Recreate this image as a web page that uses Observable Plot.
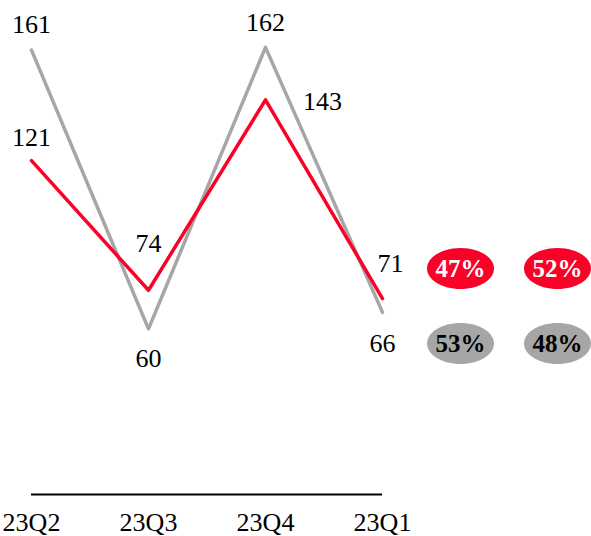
<!DOCTYPE html>
<html>
<head>
<meta charset="utf-8">
<script src="https://cdn.jsdelivr.net/npm/d3@7"></script>
<script src="https://cdn.jsdelivr.net/npm/@observablehq/plot@0.6"></script>
<style>
  html, body { margin: 0; padding: 0; background: #fff; }
  #wrap { position: relative; width: 591px; height: 536px; overflow: hidden; }
  #wrap svg { overflow: visible; }
  #shares { position: absolute; left: 420px; top: 230px; }
  #main { position: absolute; left: 0; top: 0; }
</style>
</head>
<body>
<div id="wrap"><div id="main"></div><div id="shares"></div></div>
<script>
const quarters = ["23Q2", "23Q3", "23Q4", "23Q1"];
const redValues = [121, 74, 143, 71];
const grayValues = [161, 60, 162, 66];
const shareCols = ["P1", "P2"];
const shareRows = ["seriesA", "seriesB"];
const redShares = [47, 52];
const grayShares = [53, 48];

const RED = "#fb0128";
const GRAY = "#a6a6a6";
const FONT = "'Liberation Serif', 'Times New Roman', serif";
const FS = 26;
const FSB = 25;

const redData = quarters.map((q, i) => ({q, v: redValues[i]}));
const grayData = quarters.map((q, i) => ({q, v: grayValues[i]}));

function label(values, i, dx, dy) {
  return Plot.text([i], {
    x: j => quarters[j], y: j => values[j], text: j => String(values[j]),
    dx, dy, fontSize: FS, fill: "black", lineAnchor: "middle"
  });
}

const main = Plot.plot({
  width: 591, height: 536,
  marginLeft: 31, marginRight: 209, marginTop: 0, marginBottom: 42,
  style: {fontFamily: FONT, background: "transparent"},
  x: {type: "point", domain: quarters, padding: 0, axis: null},
  y: {domain: [0, 179], axis: null},
  marks: [
    Plot.ruleY([0], {stroke: "black", strokeWidth: 2}),
    Plot.text(quarters, {x: d => d, y: () => 0, text: d => d, dy: 28, fontSize: FS, fill: "black", lineAnchor: "middle"}),
    Plot.line(grayData, {x: "q", y: "v", stroke: GRAY, strokeWidth: 3.5}),
    Plot.line(redData, {x: "q", y: "v", stroke: RED, strokeWidth: 3.5}),
    label(grayValues, 0, 0, -26),
    label(grayValues, 1, 0, 30),
    label(grayValues, 2, 0, -25),
    label(grayValues, 3, 0, 31),
    label(redValues, 0, 0, -23),
    label(redValues, 1, 0, -47),
    label(redValues, 2, 57, 2),
    label(redValues, 3, 8, -35)
  ]
});
document.getElementById("main").appendChild(main);

const ellipse = {
  draw(context) {
    const rx = 33.5, ry = 20.5, k = 0.5523;
    context.moveTo(rx, 0);
    context.bezierCurveTo(rx, ry * k, rx * k, ry, 0, ry);
    context.bezierCurveTo(-rx * k, ry, -rx, ry * k, -rx, 0);
    context.bezierCurveTo(-rx, -ry * k, -rx * k, -ry, 0, -ry);
    context.bezierCurveTo(rx * k, -ry, rx, -ry * k, rx, 0);
    context.closePath();
  }
};

const shareData = [
  ...shareCols.map((c, i) => ({c, row: shareRows[0], v: redShares[i]})),
  ...shareCols.map((c, i) => ({c, row: shareRows[1], v: grayShares[i]}))
];

const shares = Plot.plot({
  width: 171, height: 140,
  marginLeft: 40, marginRight: 33.5, marginTop: 37.5, marginBottom: 26.7,
  style: {fontFamily: FONT, background: "transparent"},
  x: {type: "point", domain: shareCols, padding: 0, axis: null},
  y: {type: "point", domain: shareRows, padding: 0, axis: null},
  color: {type: "ordinal", domain: shareRows, range: [RED, GRAY]},
  marks: [
    Plot.dot(shareData, {x: "c", y: "row", fill: "row", symbol: ellipse, r: 20, stroke: null}),
    Plot.text(shareData.filter(d => d.row === shareRows[0]), {x: "c", y: "row", text: d => d.v + "%", fontSize: FSB, fontWeight: "bold",
      fill: "white", lineAnchor: "middle"}),
    Plot.text(shareData.filter(d => d.row === shareRows[1]), {x: "c", y: "row", text: d => d.v + "%", fontSize: FSB, fontWeight: "bold",
      fill: "black", lineAnchor: "middle"})
  ]
});
document.getElementById("shares").appendChild(shares);
</script>
</body>
</html>
